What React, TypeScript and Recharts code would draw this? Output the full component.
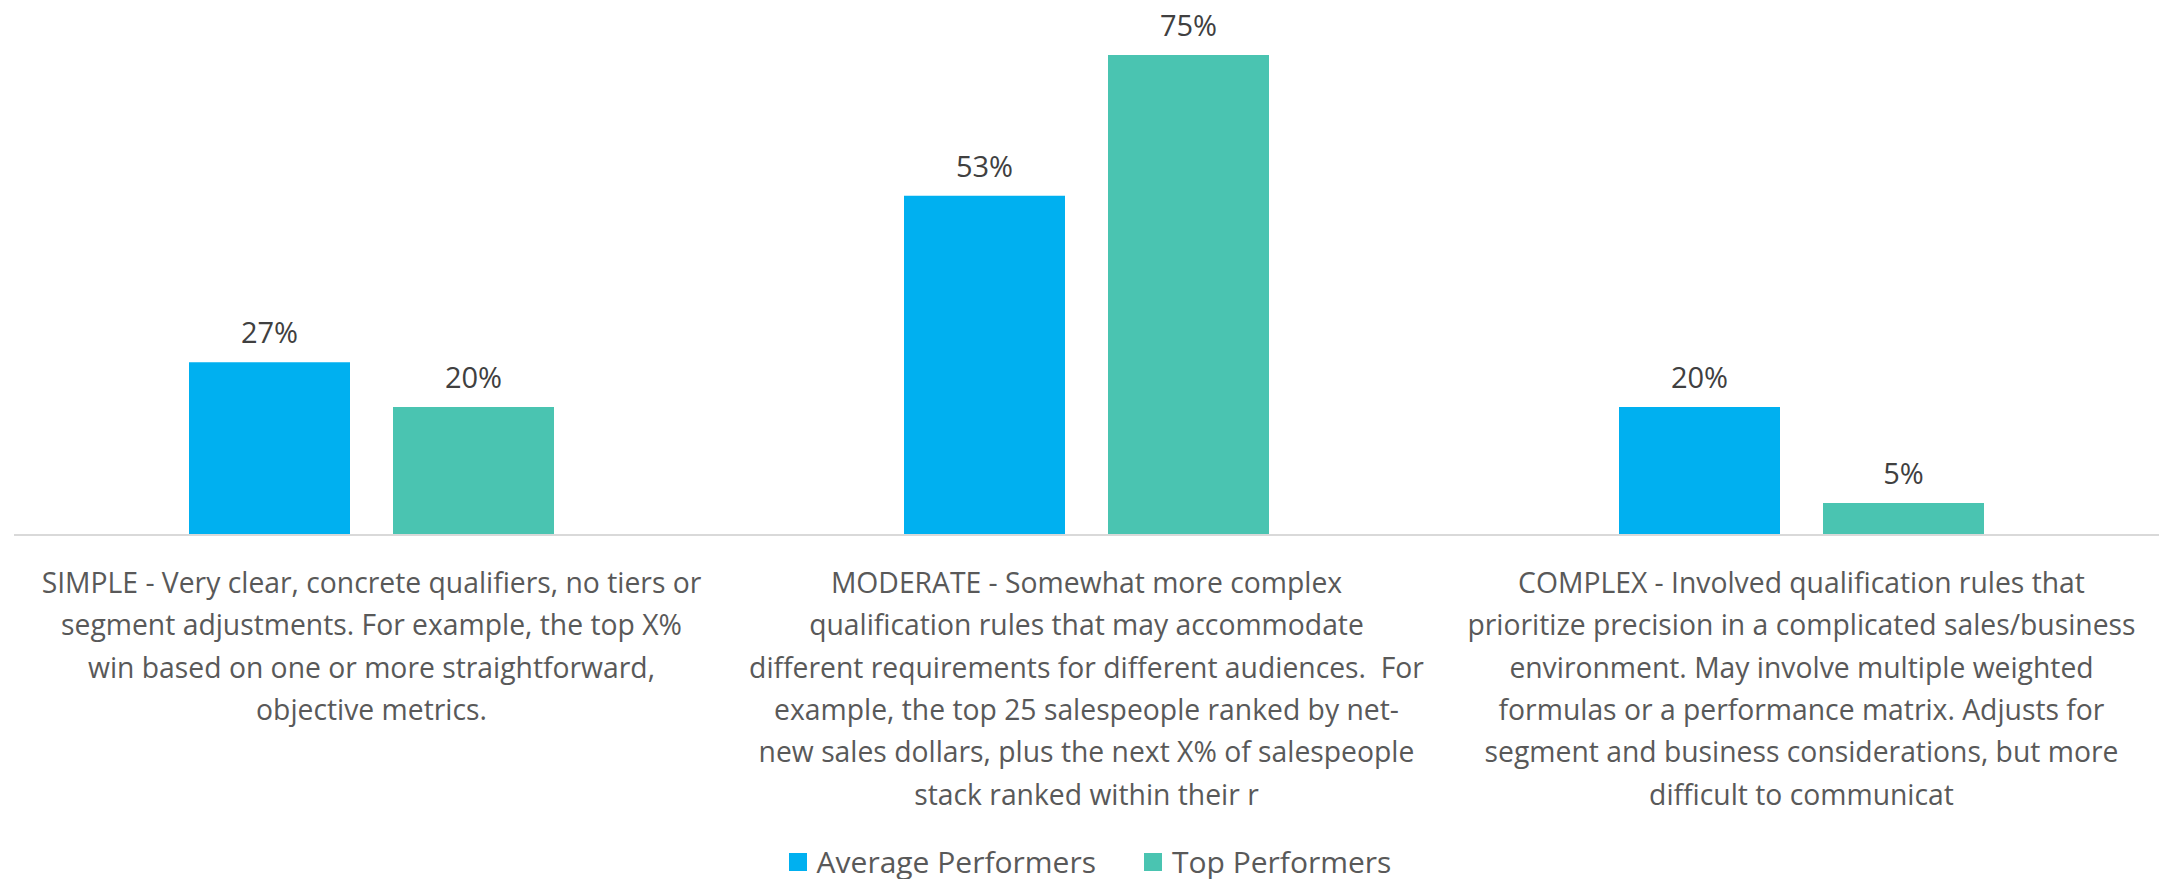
import React from "react";
import { Bar, BarChart, LabelList, Legend, XAxis, YAxis } from "recharts";

const FONT = "'Open Sans', 'Noto Sans', sans-serif";
const TEXT = "#595959";
const LABEL = "#404040";
const AVERAGE = "#00B0F0";
const TOP = "#4AC4B1";

const categories = ["SIMPLE", "MODERATE", "COMPLEX"];
const averagePerformers = [27, 53, 20];
const topPerformers = [20, 75, 5];

// category labels, wrapped the way the original chart wraps (and cuts) them
const tickLines = [
  [
    "SIMPLE - Very clear, concrete qualifiers, no tiers or",
    "segment adjustments. For example, the top X%",
    "win based on one or more straightforward,",
    "objective metrics.",
  ],
  [
    "MODERATE - Somewhat more complex",
    "qualification rules that may accommodate",
    "different requirements for different audiences.\u00a0 For",
    "example, the top 25 salespeople ranked by net-",
    "new sales dollars, plus the next X% of salespeople",
    "stack ranked within their r",
  ],
  [
    "COMPLEX - Involved qualification rules that",
    "prioritize precision in a complicated sales/business",
    "environment. May involve multiple weighted",
    "formulas or a performance matrix. Adjusts for",
    "segment and business considerations, but more",
    "difficult to communicat",
  ],
];

const data = categories.map((c, i) => ({
  category: c,
  average: averagePerformers[i],
  top: topPerformers[i],
}));

function CategoryTick(props: any) {
  const { x, y, payload } = props;
  const lines = tickLines[payload.index] ?? [];
  return (
    <text
      x={x}
      y={y}
      textAnchor="middle"
      fill={TEXT}
      fontSize={28.3}
      fontFamily={FONT}
    >
      {lines.map((line, i) => (
        <tspan key={i} x={x} dy={i === 0 ? 58 : 42.3}>
          {line}
        </tspan>
      ))}
    </text>
  );
}

function LegendContent() {
  const items = [
    { name: "Average Performers", color: AVERAGE },
    { name: "Top Performers", color: TOP },
  ];
  return (
    <div
      style={{
        height: 44,
        paddingTop: 10,
        boxSizing: "border-box",
        display: "flex",
        justifyContent: "center",
        alignItems: "center",
        gap: 48,
        fontFamily: FONT,
        fontSize: 30,
        color: TEXT,
      }}
    >
      {items.map((it) => (
        <div
          key={it.name}
          style={{ display: "flex", alignItems: "center", height: 34 }}
        >
          <span
            style={{
              width: 18,
              height: 18,
              background: it.color,
              marginRight: 10,
              display: "inline-block",
            }}
          />
          <span style={{ lineHeight: "34px" }}>{it.name}</span>
        </div>
      ))}
    </div>
  );
}

export default function App() {
  return (
    <div
      style={{
        position: "absolute",
        left: 0,
        top: 0,
        width: 2180,
        height: 879,
        background: "#fff",
      }}
    >
      <BarChart
        width={2180}
        height={879}
        data={data}
        margin={{ top: 23, right: 21, bottom: 0, left: 14 }}
        barGap={43}
        barSize={161}
      >
        <XAxis
          dataKey="category"
          axisLine={{ stroke: "#D9D9D9", strokeWidth: 2 }}
          tickLine={false}
          tickSize={0}
          tickMargin={0}
          height={300}
          interval={0}
          tick={<CategoryTick />}
        />
        <YAxis hide domain={[0, 80]} />
        <Legend
          verticalAlign="bottom"
          content={<LegendContent />}
          wrapperStyle={{ width: 2180, left: 0 }}
        />
        <Bar
          dataKey="average"
          name="Average Performers"
          fill={AVERAGE}
          isAnimationActive={false}
        >
          <LabelList
            dataKey="average"
            position="top"
            offset={19}
            formatter={(v: any) => `${v}%`}
            fill={LABEL}
            fontSize={29}
            fontFamily={FONT}
          />
        </Bar>
        <Bar
          dataKey="top"
          name="Top Performers"
          fill={TOP}
          isAnimationActive={false}
        >
          <LabelList
            dataKey="top"
            position="top"
            offset={19}
            formatter={(v: any) => `${v}%`}
            fill={LABEL}
            fontSize={29}
            fontFamily={FONT}
          />
        </Bar>
      </BarChart>
    </div>
  );
}
